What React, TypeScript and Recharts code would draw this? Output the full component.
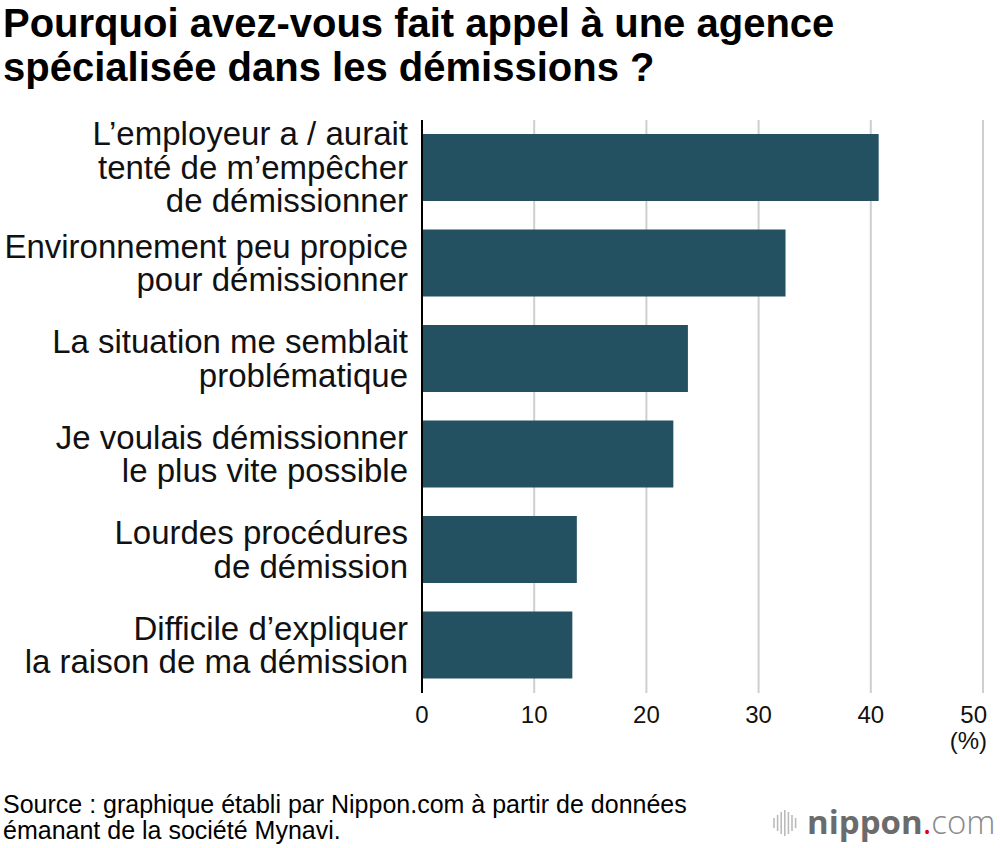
import React from 'react'
import { BarChart, Bar, XAxis, YAxis, CartesianGrid } from 'recharts'

const categories = [
  'L’employeur a / aurait\ntenté de m’empêcher\nde démissionner',
  'Environnement peu propice\npour démissionner',
  'La situation me semblait\nproblématique',
  'Je voulais démissionner\nle plus vite possible',
  'Lourdes procédures\nde démission',
  'Difficile d’expliquer\nla raison de ma démission',
]
const values = [40.7, 32.4, 23.7, 22.4, 13.8, 13.4]
const xTicks = [0, 10, 20, 30, 40, 50]

const titleLines = [
  'Pourquoi avez-vous fait appel à une agence',
  'spécialisée dans les démissions ?',
]
const sourceLines = [
  'Source : graphique établi par Nippon.com à partir de données',
  'émanant de la société Mynavi.',
]

const FONT = '"Liberation Sans", Arial, Helvetica, sans-serif'
const BAR = '#235161'

const data = categories.map((name, i) => ({ name, value: values[i] }))

function CategoryTick(props: any) {
  const { x, y, payload } = props
  const lines = String(payload.value).split('\n')
  const lh = 33.5
  const start = -((lines.length - 1) / 2) * lh + 11
  return (
    <text x={x} y={y} textAnchor="end" fill="#111" fontSize={33} fontFamily={FONT}>
      {lines.map((l, i) => (
        <tspan key={i} x={x} dy={i === 0 ? start : lh}>{l}</tspan>
      ))}
    </text>
  )
}

function ValueTick(props: any) {
  const { x, y, payload } = props
  const last = payload.value === 50
  return (
    <g>
      <text x={last ? x + 4 : x} y={y + 30} textAnchor={last ? 'end' : 'middle'} fill="#111" fontSize={24} fontFamily={FONT}>
        {payload.value}
      </text>
      {last && (
        <text x={x + 4} y={y + 56} textAnchor="end" fill="#111" fontSize={24} fontFamily={FONT}>(%)</text>
      )}
    </g>
  )
}

export default function App() {
  const waves = [10, 16, 22, 26, 22, 16, 10]
  return (
    <div style={{ position: 'absolute', left: 0, top: 0, width: 1000, height: 848, background: '#fff', overflow: 'hidden' }}>
      <svg width={1000} height={848} style={{ position: 'absolute', left: 0, top: 0 }}>
        {titleLines.map((t, i) => (
          <text key={i} x={3} y={37 + i * 44} fontSize={40} fontWeight="bold" fill="#000" fontFamily={FONT}>{t}</text>
        ))}
        {sourceLines.map((t, i) => (
          <text key={i} x={3} y={813 + i * 26} fontSize={25} fill="#000" fontFamily={FONT}>{t}</text>
        ))}
        <g>
          {waves.map((h, i) => (
            <line key={i} x1={774 + i * 3.6} x2={774 + i * 3.6} y1={823 - h / 2} y2={823 + h / 2} stroke="#bbb" strokeWidth={1.6} />
          ))}
          <text x={807} y={834} fontFamily='"Open Sans", sans-serif' fontSize={33}>
            <tspan fill="#6b6b6b" fontWeight="bold">nippon</tspan>
            <tspan fill="#e60012">.</tspan>
            <tspan fill="#8a8a8a" fontWeight="300">com</tspan>
          </text>
        </g>
      </svg>
      <div style={{ position: 'absolute', left: 0, top: 0 }}>
        <BarChart
          width={1000}
          height={760}
          data={data}
          layout="vertical"
          margin={{ top: 120, right: 17, bottom: 0, left: 0 }}
        >
          <CartesianGrid horizontal={false} stroke="#cfcfcf" strokeWidth={2} />
          <XAxis
            type="number"
            domain={[0, 50]}
            ticks={xTicks}
            axisLine={false}
            tickLine={false}
            tickSize={0}
            tickMargin={0}
            height={67}
            tick={<ValueTick />}
            interval={0}
          />
          <YAxis
            type="category"
            dataKey="name"
            width={422}
            axisLine={{ stroke: '#000', strokeWidth: 2 }}
            tickLine={false}
            tickSize={0}
            tickMargin={14}
            tick={<CategoryTick />}
            interval={0}
          />
          <Bar dataKey="value" fill={BAR} barSize={67} isAnimationActive={false} />
        </BarChart>
      </div>
    </div>
  )
}
